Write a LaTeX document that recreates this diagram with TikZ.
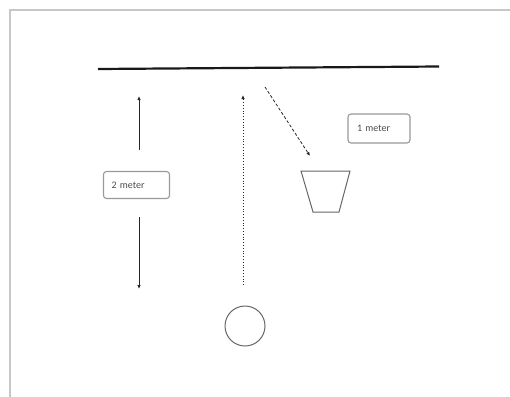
\documentclass[tikz,border=0pt]{standalone}
\usepackage{fontspec}
\setmainfont{Carlito}
\usetikzlibrary{arrows.meta}
\begin{document}
\begin{tikzpicture}[x=1pt,y=-1pt,
  lbl/.style={draw=gray!80,line width=1.1pt,rounded corners=3pt,fill=white,
    font=\fontsize{10}{12}\selectfont,text=black!70,inner xsep=0pt,inner ysep=0pt,
    align=left,minimum height=27pt},
  arr/.style={-{Latex[length=4pt,width=3.5pt]},line width=0.8pt,black!85},
  frameline/.style={draw=black!22,line width=2pt},
  outlinestyle/.style={draw=black!60,line width=1pt}]
\useasboundingbox (0,0) rectangle (510,396);
% frame
\coordinate (fTR) at (512,10);
\coordinate (fTL) at (10,10);
\coordinate (fBL) at (10,398);
\draw[frameline] (fTR) -- (fTL) -- (fBL);
% ceiling
\coordinate (cL) at (98,69);
\coordinate (cR) at (439,66.5);
\draw[line width=2.2pt,black!90] (cL) -- (cR);
% 2 meter
\node[lbl,text width=66pt] (m2) at (136.5,185) {\hspace*{8pt}2 meter};
\coordinate (a2s) at (139,150);
\coordinate (a2t) at (139,96);
\coordinate (a2u) at (139,217);
\coordinate (a2b) at (139,289);
\draw[arr] (a2s) -- (a2t);
\draw[arr] (a2u) -- (a2b);
% ball and dotted arrow
\node[outlinestyle,circle,minimum size=40pt,inner sep=0pt] (ball) at (245,326) {};
\coordinate (dS) at (243,285);
\coordinate (dT) at (243,95);
\draw[arr,dotted,line width=1pt] (dS) -- (dT);
% cup
\coordinate (cupTL) at (301,171);
\coordinate (cupTR) at (350,171);
\coordinate (cupBR) at (339,212);
\coordinate (cupBL) at (313,212);
\draw[outlinestyle] (cupTL) -- (cupTR) -- (cupBR) -- (cupBL) -- cycle;
% dashed arrow
\coordinate (eS) at (265,87);
\coordinate (eT) at (310,156);
\draw[arr,dash pattern=on 3pt off 2pt] (eS) -- (eT);
% 1 meter
\node[lbl,text width=62pt,minimum height=29pt] (m1) at (379,128.5) {\hspace*{9pt}1 meter};
\end{tikzpicture}
\end{document}
